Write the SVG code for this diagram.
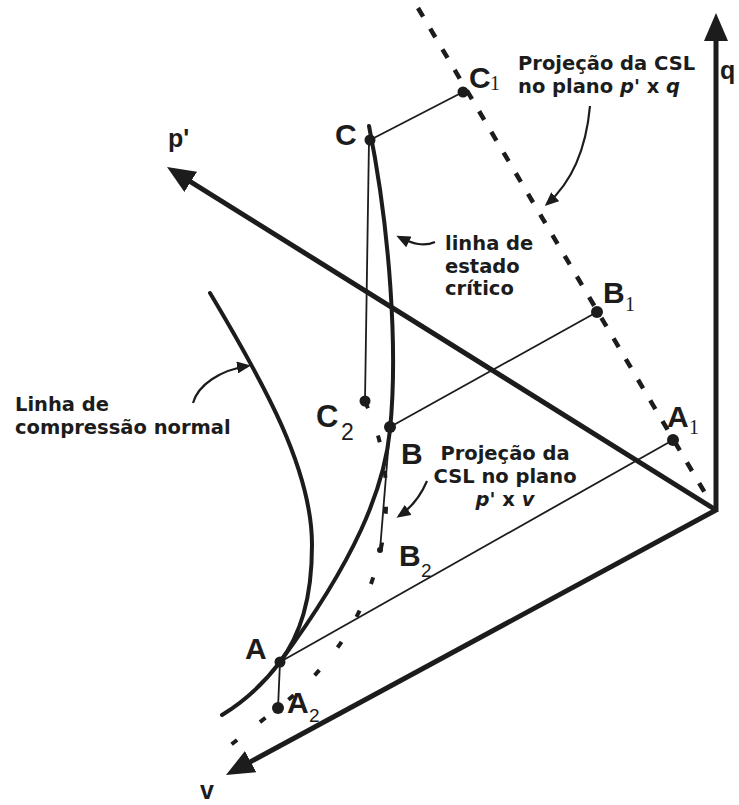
<svg xmlns="http://www.w3.org/2000/svg" width="739" height="805" viewBox="0 0 739 805">
<defs>
<marker id="bigArrow" markerUnits="userSpaceOnUse" viewBox="0 0 28 24" markerWidth="28" markerHeight="24" refX="18" refY="12" orient="auto">
<path d="M0,0 L28,12 L0,24 z" fill="#1c1c1c"/>
</marker>
<marker id="smallArrow" markerUnits="userSpaceOnUse" viewBox="0 0 14 12" markerWidth="14" markerHeight="12" refX="11" refY="6" orient="auto">
<path d="M0,0 L14,6 L0,12 z" fill="#1c1c1c"/>
</marker>
<style>
.axis{stroke:#1c1c1c;stroke-width:5;fill:none;marker-end:url(#bigArrow)}
.thick{stroke:#1c1c1c;stroke-width:4;fill:none;stroke-linecap:round}
.thin{stroke:#1c1c1c;stroke-width:1.8;fill:none}
.dash1{stroke:#1c1c1c;stroke-width:4.5;fill:none;stroke-dasharray:10 14}
.dash2{stroke:#1c1c1c;stroke-width:4;fill:none;stroke-dasharray:7 29}
.ptr{stroke:#1c1c1c;stroke-width:2.2;fill:none;marker-end:url(#smallArrow)}
.dot{fill:#1c1c1c}
text{font-family:"Liberation Sans",Arial,sans-serif;fill:#1c1c1c}
.lbl{font-family:"DejaVu Sans","Liberation Sans",sans-serif;font-size:19.5px;font-weight:bold}
.pt{font-size:30px;font-weight:bold}
.sub1{font-family:"Liberation Serif","Times New Roman",serif;font-size:20px}
.sub2{font-size:19px}
.ax{font-size:25px;font-weight:bold}
</style>
</defs>
<rect width="739" height="805" fill="#ffffff"/>

<g id="axes">
<path class="axis" d="M716,512 L716,23"/>
<path class="axis" d="M716,510 L175.5,172.3"/>
<path class="axis" d="M716,510 L234.8,770.2"/>
<text class="ax" x="720" y="79">q</text>
<text class="ax" x="168" y="147">p'</text>
<text class="ax" x="200" y="799">v</text>
</g>

<g id="curves">
<path id="ncl" class="thick" d="M210,293 C265,385 312,470 312,545 C312,600 300,635 280,662 C262,686 243,702 222,715"/>
<path id="csl" class="thick" d="M369,126 C390,230 398,350 390,430 C384,490 355,560 280,662"/>
<path id="csl-pq" class="dash1" d="M418,8 L708,498"/>
<path id="csl-pv" class="dash2" d="M365,402 C405,480 395,620 278,708 L214,758"/>
</g>

<g id="connectors">
<path class="thin" d="M370,140 L463,92"/>
<path class="thin" d="M369,140 L365,401"/>
<path class="thin" d="M390,427 L597,312"/>
<path class="thin" d="M390,427 L380,550"/>
<path class="thin" d="M280,662 L673,440"/>
<path class="thin" d="M280,662 L278,708"/>
<path class="ptr" d="M590,106 C586,150 572,182 547,204"/>
<path class="ptr" d="M435,242 C424,247 413,244 399,237"/>
<path class="ptr" d="M193,403 C198,385 220,370 248,366"/>
<path class="ptr" d="M427,481 C421,495 411,508 399,516"/>
</g>

<g id="node-C">
<circle class="dot" cx="370" cy="140" r="5.5"/>
<text class="pt" x="335" y="145">C</text>
</g>
<g id="node-C1">
<circle class="dot" cx="463" cy="92" r="5.5"/>
<text class="pt" x="469" y="88">C</text><text class="sub1" x="490" y="90">1</text>
</g>
<g id="node-C2">
<circle class="dot" cx="365" cy="401" r="5.5"/>
<text class="pt" x="316" y="427" style="font-size:31px">C</text><text class="sub2" x="341" y="440" style="font-size:23px">2</text>
</g>
<g id="node-B">
<circle class="dot" cx="390" cy="427" r="6"/>
<text class="pt" x="401" y="464">B</text>
</g>
<g id="node-B1">
<circle class="dot" cx="597" cy="312" r="6"/>
<text class="pt" x="603" y="303">B</text><text class="sub1" x="625" y="311">1</text>
</g>
<g id="node-B2">
<circle class="dot" cx="380" cy="550" r="3"/>
<text class="pt" x="399" y="566">B</text><text class="sub2" x="421" y="577">2</text>
</g>
<g id="node-A">
<circle class="dot" cx="280" cy="662" r="5.5"/>
<text class="pt" x="245" y="659">A</text>
</g>
<g id="node-A1">
<circle class="dot" cx="673" cy="440" r="6"/>
<text class="pt" x="667" y="427">A</text><text class="sub1" x="689" y="434">1</text>
</g>
<g id="node-A2">
<circle class="dot" cx="278" cy="708" r="6"/>
<text class="pt" x="287" y="713">A</text><text class="sub2" x="309" y="722">2</text>
</g>

<g id="labels">
<text class="lbl" x="518" y="70">Projeção da CSL</text>
<text class="lbl" x="518" y="92.5">no plano <tspan font-style="italic">p'</tspan> x <tspan font-style="italic">q</tspan></text>
<text class="lbl" x="445" y="250">linha de</text>
<text class="lbl" x="445" y="272.5">estado</text>
<text class="lbl" x="445" y="295">crítico</text>
<text class="lbl" x="15" y="411">Linha de</text>
<text class="lbl" x="15" y="433.5">compressão normal</text>
<text class="lbl" x="505" y="460" text-anchor="middle">Projeção da</text>
<text class="lbl" x="505" y="483" text-anchor="middle">CSL no plano</text>
<text class="lbl" x="505" y="506" text-anchor="middle"><tspan font-style="italic">p'</tspan> x <tspan font-style="italic">v</tspan></text>
</g>
</svg>
